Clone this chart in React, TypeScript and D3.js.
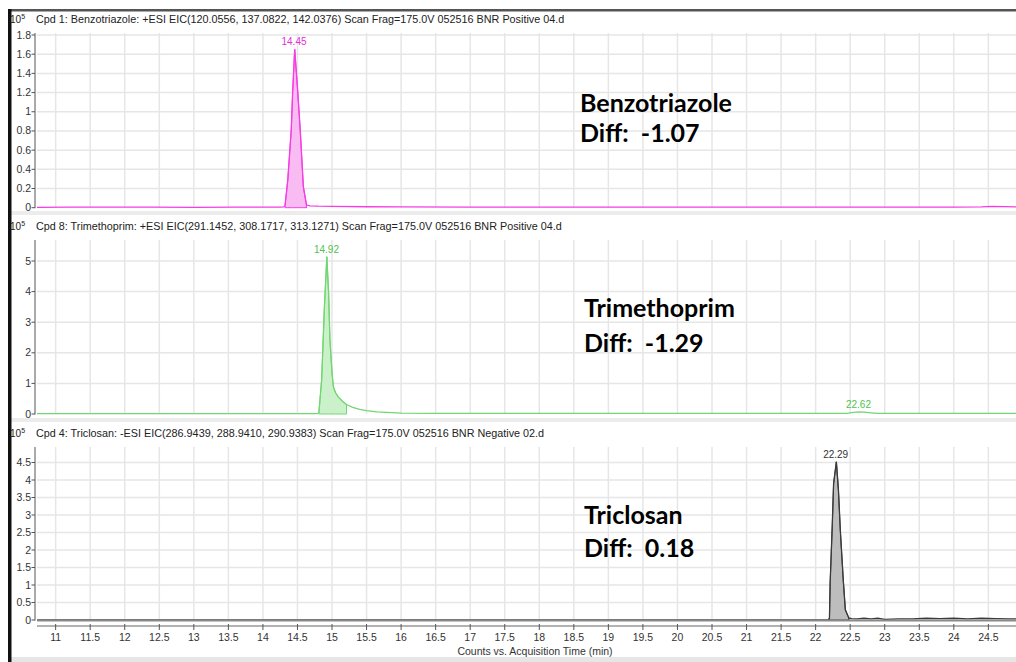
import React, { useEffect, useRef } from 'react';
import * as d3 from 'd3';

// retention time axis (min)
const timeTicks = [11, 11.5, 12, 12.5, 13, 13.5, 14, 14.5, 15, 15.5, 16, 16.5, 17, 17.5, 18, 18.5, 19, 19.5, 20, 20.5, 21, 21.5, 22, 22.5, 23, 23.5, 24, 24.5];
const timeDomain = [10.73, 24.9];

// counts x10^5
const benzoTime = [10.73, 11.2, 11.8, 12.4, 13.0, 13.6, 14.0, 14.25, 14.30, 14.32, 14.36, 14.41, 14.43, 14.46, 14.50, 14.54, 14.585, 14.63, 14.68, 14.8, 15.0, 15.5, 16.0, 17.0, 18.0, 19.0, 20.0, 21.0, 22.0, 23.0, 24.0, 24.4, 24.55, 24.9];
const benzoCounts = [0.004, 0.006, 0.005, 0.005, 0.004, 0.005, 0.006, 0.007, 0.008, 0.02, 0.29, 0.81, 1.2, 1.65, 1.25, 0.81, 0.22, 0.03, 0.02, 0.016, 0.013, 0.01, 0.008, 0.007, 0.006, 0.006, 0.005, 0.005, 0.005, 0.006, 0.006, 0.008, 0.014, 0.008];

const trimTime = [10.73, 11.5, 12.5, 13.5, 14.3, 14.79, 14.81, 14.85, 14.89, 14.925, 14.95, 14.97, 15.0, 15.02, 15.05, 15.09, 15.15, 15.21, 15.3, 15.4, 15.5, 15.65, 15.79, 16.0, 16.5, 17.0, 18.0, 19.0, 20.0, 21.0, 22.0, 22.45, 22.55, 22.62, 22.7, 22.8, 22.9, 23.5, 24.0, 24.9];
const trimCounts = [0.01, 0.01, 0.01, 0.01, 0.01, 0.01, 0.05, 1.11, 3.5, 5.14, 4.0, 2.42, 1.34, 0.89, 0.7, 0.56, 0.42, 0.31, 0.22, 0.15, 0.11, 0.07, 0.05, 0.03, 0.02, 0.02, 0.02, 0.02, 0.02, 0.02, 0.02, 0.02, 0.05, 0.07, 0.06, 0.04, 0.02, 0.02, 0.02, 0.02];

const triclTime = [10.73, 12, 14, 16, 18, 20, 22.0, 22.18, 22.20, 22.21, 22.24, 22.26, 22.30, 22.33, 22.357, 22.40, 22.43, 22.48, 22.52, 22.6, 22.7, 22.8, 22.9, 23.0, 23.2, 23.4, 23.6, 23.8, 24.0, 24.2, 24.4, 24.6, 24.8, 24.9];
const triclCounts = [0, 0, 0, 0, 0, 0, 0, 0, 0.05, 1.06, 2.67, 3.9, 4.52, 3.71, 2.57, 1.14, 0.29, 0.06, 0.04, 0.03, 0.05, 0.03, 0.05, 0.02, 0.03, 0.03, 0.05, 0.04, 0.05, 0.03, 0.05, 0.04, 0.03, 0.03];

const benzoTicks = [0, 0.2, 0.4, 0.6, 0.8, 1, 1.2, 1.4, 1.6, 1.8];
const trimTicks = [0, 1, 2, 3, 4, 5];
const triclTicks = [0, 0.5, 1, 1.5, 2, 2.5, 3, 3.5, 4, 4.5];

const headers = [
  'Cpd 1: Benzotriazole: +ESI EIC(120.0556, 137.0822, 142.0376) Scan Frag=175.0V 052516 BNR Positive 04.d',
  'Cpd 8: Trimethoprim: +ESI EIC(291.1452, 308.1717, 313.1271) Scan Frag=175.0V 052516 BNR Positive 04.d',
  'Cpd 4: Triclosan: -ESI EIC(286.9439, 288.9410, 290.9383) Scan Frag=175.0V 052516 BNR Negative 02.d',
];
const compounds = ['Benzotriazole', 'Trimethoprim', 'Triclosan'];
const diffs = ['-1.07', '-1.29', '0.18'];
const peakLabels = [[14.45], [14.92, 22.62], [22.29]];
const integration = [[14.32, 14.63], [14.81, 15.21], [22.20, 22.48]];

function App() {
  const svgRef = useRef(null);

  useEffect(() => {
    if (!svgRef.current) return;
    const svg = d3.select(svgRef.current);
    svg.selectAll('*').remove();

    const W = 1016;
    const H = 662;
    const plotLeft = 37;
    const axisX = 35;

    const x = d3.scaleLinear().domain(timeDomain).range([plotLeft, W]);

    const panels = [
      { time: benzoTime, counts: benzoCounts, ticks: benzoTicks, headerY: 23, axisTop: 33, y0: 207.7, yTopPx: 35, stroke: '#f53de2', fill: '#f9bcf2', label: '#ea2cd9' },
      { time: trimTime, counts: trimCounts, ticks: trimTicks, headerY: 230, axisTop: 240, y0: 414, yTopPx: 261, stroke: '#72d672', fill: '#cbf1cb', label: '#4fc24f' },
      { time: triclTime, counts: triclCounts, ticks: triclTicks, headerY: 437, axisTop: 447, y0: 620, yTopPx: 462.5, stroke: '#3a3a3a', fill: '#bdbdbd', label: '#333' },
    ];

    svg.append('rect').attr('width', W).attr('height', H).attr('fill', '#fff');

    const clip = svg.append('defs').append('clipPath').attr('id', 'plotclip');
    clip.append('rect').attr('x', plotLeft).attr('y', 0).attr('width', W - plotLeft).attr('height', H);

    panels.forEach((p, i) => {
      const tickMax = p.ticks[p.ticks.length - 1];
      const y = d3.scaleLinear().domain([0, tickMax]).range([p.y0, p.yTopPx]);
      const g = svg.append('g');

      // grid
      g.selectAll('line.vg').data(timeTicks).join('line')
        .attr('x1', d => x(d)).attr('x2', d => x(d))
        .attr('y1', p.axisTop).attr('y2', p.y0)
        .attr('stroke', '#e6e6e6').attr('stroke-width', 1.5);
      g.selectAll('line.hg').data(p.ticks.slice(1)).join('line')
        .attr('x1', plotLeft).attr('x2', W)
        .attr('y1', d => y(d)).attr('y2', d => y(d))
        .attr('stroke', '#e6e6e6').attr('stroke-width', 1.5);

      // y axis
      g.append('line').attr('x1', axisX).attr('x2', axisX).attr('y1', p.axisTop).attr('y2', p.y0 + 0.5)
        .attr('stroke', '#555').attr('stroke-width', 1);
      g.selectAll('line.yt').data(p.ticks).join('line')
        .attr('x1', axisX - 3.5).attr('x2', axisX)
        .attr('y1', d => y(d)).attr('y2', d => y(d))
        .attr('stroke', '#555');
      g.selectAll('text.yl').data(p.ticks).join('text')
        .attr('x', axisX - 4).attr('y', d => y(d) + 3.5)
        .attr('text-anchor', 'end')
        .style('font-family', '"Liberation Sans", Arial, sans-serif')
        .style('font-size', '10.5px').style('fill', '#333')
        .text(d => String(d));

      // header
      const hdr = g.append('text').attr('x', 10).attr('y', p.headerY)
        .style('font-family', '"Liberation Sans", Arial, sans-serif')
        .style('font-size', '10px').style('fill', '#222');
      hdr.append('tspan').text('10');
      hdr.append('tspan').attr('dy', -4).style('font-size', '7px').text('5');
      g.append('text').attr('x', 36).attr('y', p.headerY)
        .style('font-family', '"Liberation Sans", Arial, sans-serif')
        .style('font-size', '10.8px').style('fill', '#222')
        .text(headers[i]);

      const pts = p.time.map((t, k) => [t, p.counts[k]]);
      const [s, e] = integration[i];
      const inPeak = pts.filter(d => d[0] >= s && d[0] <= e);

      const plot = g.append('g').attr('clip-path', 'url(#plotclip)');
      const area = d3.area().x(d => x(d[0])).y0(p.y0).y1(d => y(d[1]));
      plot.append('path').attr('d', area(inPeak))
        .attr('fill', p.fill).attr('stroke', p.stroke).attr('stroke-width', 1);
      // vertical right edge of the integration
      plot.append('line')
        .attr('x1', x(e)).attr('x2', x(e))
        .attr('y1', p.y0).attr('y2', y(inPeak[inPeak.length - 1][1]))
        .attr('stroke', p.stroke).attr('stroke-width', 1);

      const line = d3.line().x(d => x(d[0])).y(d => y(d[1]));
      plot.append('path').attr('d', line(pts))
        .attr('fill', 'none').attr('stroke', p.stroke).attr('stroke-width', 1.3);

      // peak labels
      peakLabels[i].forEach(rt => {
        const near = pts.filter(d => Math.abs(d[0] - rt) < 0.12);
        const top = d3.max(near, d => d[1]);
        g.append('text')
          .attr('x', x(rt)).attr('y', y(top) - 4)
          .attr('text-anchor', 'middle')
          .style('font-family', '"Liberation Sans", Arial, sans-serif')
          .style('font-size', '10px').style('fill', p.label)
          .text(rt.toFixed(2));
      });

      // annotation
      const ann = [
        { tx: 580, ty1: 112, ty2: 142 },
        { tx: 584, ty1: 317, ty2: 352 },
        { tx: 584, ty1: 524, ty2: 557 },
      ][i];
      g.append('text').attr('x', ann.tx).attr('y', ann.ty1)
        .style('font-family', 'Lato, "Open Sans", sans-serif').style('font-weight', 'bold')
        .style('font-size', '25px').style('fill', '#000')
        .text(compounds[i]);
      g.append('text').attr('x', ann.tx).attr('y', ann.ty2)
        .style('font-family', 'Lato, "Open Sans", sans-serif').style('font-weight', 'bold')
        .style('font-size', '25px').style('fill', '#000').style('white-space', 'pre')
        .text(`Diff:  ${diffs[i]}`);
    });

    // separators between panels
    svg.append('rect').attr('x', 11).attr('y', 211).attr('width', W - 11).attr('height', 4).attr('fill', '#ececec');
    svg.append('rect').attr('x', 11).attr('y', 418).attr('width', W - 11).attr('height', 4).attr('fill', '#ececec');

    // bottom frame and x axis
    svg.append('rect').attr('x', plotLeft).attr('y', 619.5).attr('width', W - plotLeft).attr('height', 2).attr('fill', '#8a8a8a');
    svg.append('line').attr('x1', plotLeft).attr('x2', W).attr('y1', 626).attr('y2', 626).attr('stroke', '#666').attr('stroke-width', 1.2);
    svg.selectAll('line.xt').data(timeTicks).join('line')
      .attr('x1', d => x(d)).attr('x2', d => x(d))
      .attr('y1', 624).attr('y2', 630)
      .attr('stroke', '#555');
    svg.selectAll('text.xl').data(timeTicks).join('text')
      .attr('x', d => x(d)).attr('y', 641)
      .attr('text-anchor', 'middle')
      .style('font-family', '"Liberation Sans", Arial, sans-serif')
      .style('font-size', '10.5px').style('fill', '#333')
      .text(d => String(d));
    svg.append('text').attr('x', 535).attr('y', 655)
      .attr('text-anchor', 'middle')
      .style('font-family', '"Liberation Sans", Arial, sans-serif')
      .style('font-size', '10.5px').style('fill', '#333')
      .text('Counts vs. Acquisition Time (min)');

    // window frame
    svg.append('rect').attr('x', 11).attr('y', 657).attr('width', W - 11).attr('height', 5).attr('fill', '#e6e6e6');
    svg.append('rect').attr('x', 8).attr('y', 9).attr('width', W - 8).attr('height', 2.5).attr('fill', '#555');
    svg.append('rect').attr('x', 8).attr('y', 9).attr('width', 3.5).attr('height', H - 9).attr('fill', '#111');
  }, []);

  return (
    <svg ref={svgRef} width="1016" height="662" style={{ position: 'absolute', left: 0, top: 0 }}></svg>
  );
}

export default App;
